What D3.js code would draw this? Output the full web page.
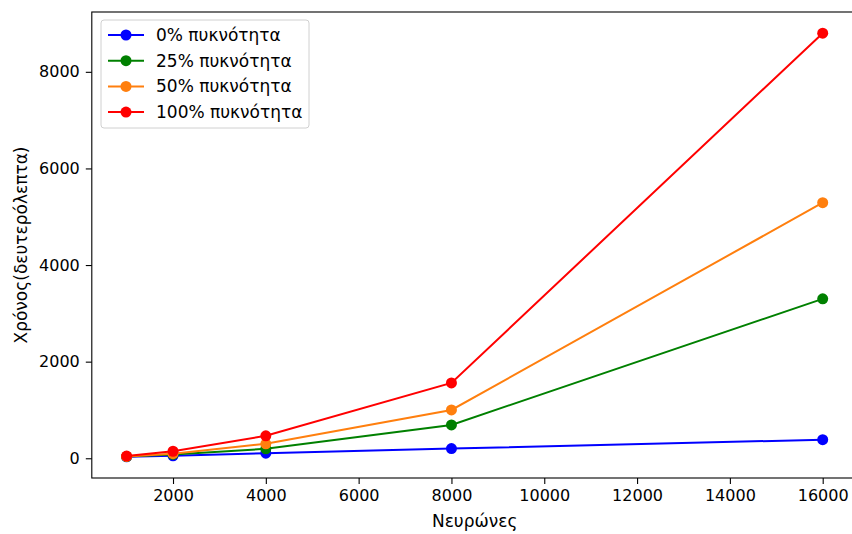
<!DOCTYPE html>
<html>
<head>
<meta charset="utf-8">
<script src="https://cdn.jsdelivr.net/npm/d3@7/dist/d3.min.js"></script>
<style>
  html, body { margin: 0; padding: 0; background: #fff; }
  svg { display: block; font-family: 'DejaVu Sans', sans-serif; }
  svg text { font-family: 'DejaVu Sans', sans-serif; font-size: 16px; fill: #000; }
  svg text.label { font-size: 17px; }
</style>
</head>
<body>
<svg id="chart" width="852" height="534"></svg>
<script>
// Neuron counts on the x axis
const neurons = [1000, 2000, 4000, 8000, 16000];

// Run time (seconds) per connection density
const density0 = [30, 50, 105, 200, 385];
const density25 = [35, 80, 195, 690, 3300];
const density50 = [38, 95, 300, 1000, 5290];
const density100 = [45, 145, 465, 1560, 8800];

const seriesNames = ["0% πυκνότητα", "25% πυκνότητα", "50% πυκνότητα", "100% πυκνότητα"];
const seriesColors = ["#0000ff", "#008000", "#ff7f0e", "#ff0000"];
const seriesValues = [density0, density25, density50, density100];

const xTicks = [2000, 4000, 6000, 8000, 10000, 12000, 14000, 16000];
const yTicks = [0, 2000, 4000, 6000, 8000];

const xLabel = "Νευρώνες";
const yLabel = "Χρόνος(δευτερόλεπτα)";

const svg = d3.select("#chart");
const plot = { left: 91.8, right: 857.5, top: 12, bottom: 478 };

// Data extent with 5% padding on each side
function padded(lo, hi) {
  const m = (hi - lo) * 0.05;
  return [lo - m, hi + m];
}
const allY = seriesValues.flat();
const x = d3.scaleLinear()
  .domain(padded(d3.min(neurons), d3.max(neurons)))
  .range([plot.left, plot.right]);
const y = d3.scaleLinear()
  .domain(padded(d3.min(allY), d3.max(allY)))
  .range([plot.bottom, plot.top]);

// Axes
const xAxis = d3.axisBottom(x).tickValues(xTicks).tickSize(6).tickPadding(6).tickFormat(d3.format("d"));
const yAxis = d3.axisLeft(y).tickValues(yTicks).tickSize(6).tickPadding(6).tickFormat(d3.format("d"));

const gx = svg.append("g").attr("transform", `translate(0,${plot.bottom})`).call(xAxis);
const gy = svg.append("g").attr("transform", `translate(${plot.left},0)`).call(yAxis);
[gx, gy].forEach(g => {
  g.attr("font-size", null).attr("font-family", null);
  g.select(".domain").remove();
  g.selectAll(".tick line").attr("stroke", "#000").attr("stroke-width", 1.1);
  g.selectAll(".tick text").attr("fill", "#000");
});

// Frame
svg.append("rect")
  .attr("x", plot.left).attr("y", plot.top)
  .attr("width", plot.right - plot.left).attr("height", plot.bottom - plot.top)
  .attr("fill", "none").attr("stroke", "#000").attr("stroke-width", 1.1);

// Series lines and markers
const line = d3.line().x((d, i) => x(neurons[i])).y(d => y(d));
seriesValues.forEach((vals, s) => {
  const g = svg.append("g");
  g.append("path").datum(vals)
    .attr("d", line)
    .attr("fill", "none")
    .attr("stroke", seriesColors[s])
    .attr("stroke-width", 2);
  g.selectAll("circle").data(vals).join("circle")
    .attr("cx", (d, i) => x(neurons[i]))
    .attr("cy", d => y(d))
    .attr("r", 5.5)
    .attr("fill", seriesColors[s]);
});

// Axis titles
svg.append("text")
  .attr("class", "label")
  .attr("x", (plot.left + plot.right) / 2)
  .attr("y", 527)
  .attr("text-anchor", "middle")
  .text(xLabel);
svg.append("text")
  .attr("class", "label")
  .attr("transform", `translate(27,${(plot.top + plot.bottom) / 2}) rotate(-90)`)
  .attr("text-anchor", "middle")
  .text(yLabel);

// Legend
const lg = svg.append("g").attr("transform", "translate(101,20)");
lg.append("rect")
  .attr("x", 0).attr("y", 0).attr("width", 208).attr("height", 108)
  .attr("rx", 3).attr("fill", "#fff").attr("fill-opacity", 0.8)
  .attr("stroke", "#d0d0d0").attr("stroke-width", 1);
seriesNames.forEach((name, s) => {
  const cy = 15 + s * 25.7;
  lg.append("line")
    .attr("x1", 7).attr("x2", 43).attr("y1", cy).attr("y2", cy)
    .attr("stroke", seriesColors[s]).attr("stroke-width", 2);
  lg.append("circle").attr("cx", 25).attr("cy", cy).attr("r", 5.5).attr("fill", seriesColors[s]);
  lg.append("text")
    .attr("class", "label")
    .attr("x", 55).attr("y", cy + 6)
    .text(name);
});
</script>
</body>
</html>
